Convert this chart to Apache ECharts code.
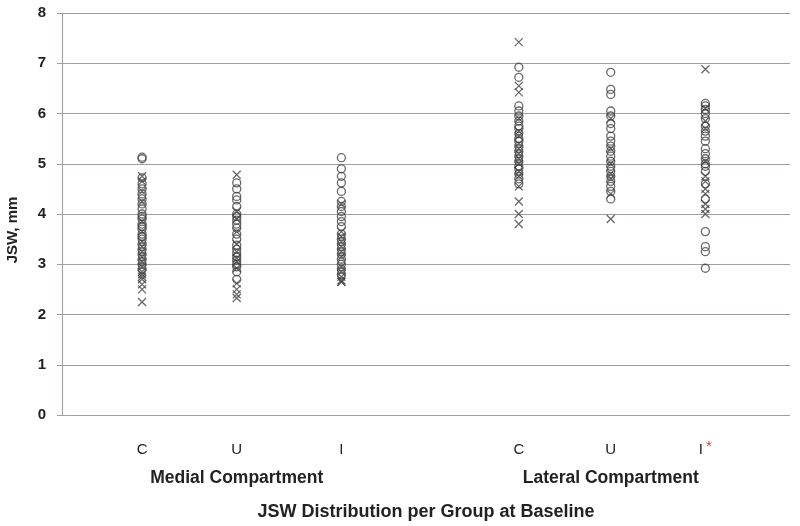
<!DOCTYPE html>
<html>
<head>
<meta charset="utf-8">
<script src="https://cdn.jsdelivr.net/npm/echarts@6/dist/echarts.min.js"></script>
<style>
  html, body { margin: 0; padding: 0; background: #fff; }
  #chart { width: 800px; height: 526px; }
</style>
</head>
<body>
<div id="chart"></div>
<script>
// group positions on the x value axis (gap between compartments)
const positions = [0.88, 1.92, 3.07, 5.02, 6.03, 7.07];
const groupLabels = ["C", "U", "I", "C", "U", "I*"];
const compartments = { 1: "Medial Compartment", 4: "Lateral Compartment" };
const yTicks = [0, 1, 2, 3, 4, 5, 6, 7, 8];

// JSW values (mm), circles and crosses per group
const medialC_o = [5.13, 5.1, 4.72, 4.6, 4.5, 4.4, 4.3, 4.2, 4.1, 4.0, 3.95, 3.9, 3.8, 3.75, 3.7, 3.6, 3.55, 3.5, 3.4, 3.3, 3.2, 3.1, 3.0, 2.9];
const medialC_x = [4.75, 4.65, 4.45, 4.25, 3.85, 3.65, 3.45, 3.35, 3.25, 3.15, 3.05, 2.95, 2.85, 2.8, 2.75, 2.7, 2.6, 2.5, 2.25];
const medialU_o = [4.62, 4.5, 4.35, 4.28, 4.15, 4.0, 3.95, 3.88, 3.8, 3.72, 3.6, 3.5, 3.38, 3.3, 3.22, 3.15, 3.08, 3.0, 2.95, 2.85, 2.7];
const medialU_x = [4.78, 4.05, 3.9, 3.65, 3.4, 3.25, 3.12, 3.05, 2.92, 2.62, 2.5, 2.4, 2.33];
const medialI_o = [5.12, 4.9, 4.75, 4.62, 4.45, 4.25, 4.15, 4.05, 3.95, 3.85, 3.75, 3.6, 3.5, 3.4, 3.3, 3.2, 3.1, 3.0, 2.9, 2.8];
const medialI_x = [4.2, 3.65, 3.55, 3.45, 3.35, 3.25, 3.15, 2.95, 2.85, 2.75, 2.68, 2.65, 2.65];
const lateralC_o = [6.92, 6.72, 6.15, 6.05, 5.95, 5.85, 5.75, 5.7, 5.6, 5.5, 5.45, 5.35, 5.25, 5.15, 5.05, 4.95, 4.9, 4.8, 4.7, 4.6];
const lateralC_x = [7.42, 6.55, 6.42, 5.9, 5.65, 5.55, 5.4, 5.3, 5.2, 5.1, 5.0, 4.85, 4.75, 4.55, 4.25, 4.0, 3.8];
const lateralU_o = [6.82, 6.48, 6.38, 6.05, 5.95, 5.8, 5.7, 5.55, 5.45, 5.35, 5.25, 5.15, 5.05, 4.95, 4.85, 4.75, 4.65, 4.55, 4.45, 4.3];
const lateralU_x = [5.9, 5.3, 5.0, 4.8, 4.7, 4.4, 3.9];
const lateralI_o = [6.2, 6.15, 6.08, 6.0, 5.9, 5.75, 5.65, 5.55, 5.45, 5.3, 5.2, 5.1, 5.0, 4.95, 4.85, 4.6, 4.3, 3.65, 3.35, 3.25, 2.92];
const lateralI_x = [6.88, 6.1, 5.85, 5.7, 5.05, 4.75, 4.65, 4.5, 4.4, 4.2, 4.1, 4.0];

const circleGroups = [medialC_o, medialU_o, medialI_o, lateralC_o, lateralU_o, lateralI_o];
const crossGroups = [medialC_x, medialU_x, medialI_x, lateralC_x, lateralU_x, lateralI_x];

function toPoints(groups) {
  let pts = [];
  groups.forEach((vals, i) => {
    vals.forEach((v) => pts.push([positions[i], v]));
  });
  return pts;
}

let chart = echarts.init(document.getElementById("chart"));
let option = {
  animation: false,
  grid: { left: 62, right: 10, top: 13, bottom: 111, outerBoundsMode: "none" },
  xAxis: {
    type: "value",
    min: 0,
    max: 8,
    name: "JSW Distribution per Group at Baseline",
    nameLocation: "middle",
    nameGap: 88,
    nameTextStyle: { fontFamily: "Liberation Sans", fontWeight: "bold", fontSize: 18, color: "#222" },
    axisLine: { show: false },
    axisTick: { show: false },
    splitLine: { show: false },
    axisLabel: {
      customValues: positions,
      margin: 21,
      formatter: (val) => {
        let i = positions.indexOf(val);
        let lab = groupLabels[i] === "I*" ? "{g|I}{s|*}" : "{g|" + groupLabels[i] + "}";
        if (compartments[i]) lab += "\n{c|" + compartments[i] + "}";
        return lab;
      },
      rich: {
        g: { fontFamily: "Liberation Sans", fontSize: 15, color: "#222", lineHeight: 28 },
        s: { fontFamily: "Liberation Sans", fontSize: 15, color: "#e03a2e", lineHeight: 28, padding: [0, 0, 6, 3] },
        c: { fontFamily: "Liberation Sans", fontSize: 17.5, fontWeight: "bold", color: "#222", lineHeight: 28 },
      },
    },
  },
  yAxis: {
    type: "value",
    min: 0,
    max: 8,
    interval: 1,
    name: "JSW, mm",
    nameLocation: "middle",
    nameGap: 42,
    nameTextStyle: { fontFamily: "Liberation Sans", fontWeight: "bold", fontSize: 15, color: "#222", padding: [0, 32, 0, 0] },
    axisLine: { show: true, lineStyle: { color: "#a39c99", width: 1 } },
    axisTick: { show: true, length: 5, lineStyle: { color: "#a39c99" } },
    splitLine: { show: true, lineStyle: { color: "#a39c99", width: 1 } },
    axisLabel: {
      margin: 16,
      fontFamily: "Liberation Sans",
      fontWeight: "bold",
      fontSize: 15,
      color: "#222",
      formatter: (v) => (yTicks.indexOf(v) >= 0 ? String(v) : ""),
    },
  },
  series: [
    {
      type: "scatter",
      symbol: "circle",
      symbolSize: 8,
      data: toPoints(circleGroups),
      itemStyle: { color: "rgba(255,255,255,0)", borderColor: "#444", borderWidth: 1.3 },
    },
    {
      type: "scatter",
      symbol: "path://M0,0L10,10M10,0L0,10",
      symbolSize: 8,
      data: toPoints(crossGroups),
      itemStyle: { color: "rgba(255,255,255,0)", borderColor: "#444", borderWidth: 1.3 },
    },
  ],
};
option && chart.setOption(option);
</script>
</body>
</html>
